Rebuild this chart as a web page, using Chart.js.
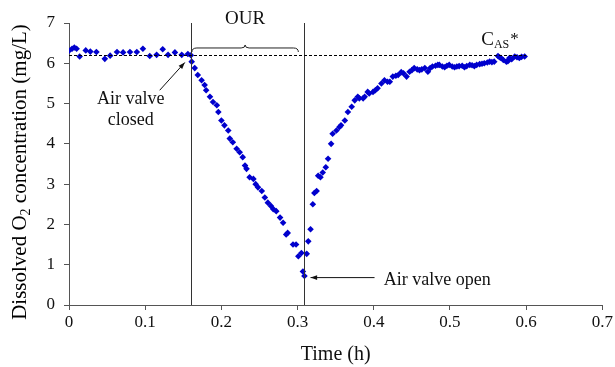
<!DOCTYPE html>
<html>
<head>
<meta charset="utf-8">
<script src="https://cdn.jsdelivr.net/npm/chart.js@4"></script>
<style>
  body { margin: 0; background: #fff; }
  #wrap { width: 615px; height: 367px; }
</style>
</head>
<body>
<div id="wrap"><canvas id="myChart" width="615" height="367"></canvas></div>
<script>
// time (h) and dissolved O2 (mg/L)
var timeH = [
  0.000, 0.004, 0.007, 0.010, 0.014, 0.022, 0.028, 0.036, 0.047, 0.054,
  0.063, 0.071, 0.080, 0.089, 0.097, 0.106, 0.115, 0.123, 0.130, 0.139,
  0.148, 0.156, 0.160,
  0.161, 0.165, 0.169, 0.174, 0.178, 0.180, 0.185, 0.189, 0.194, 0.196,
  0.200, 0.204, 0.209, 0.211, 0.215, 0.220, 0.224, 0.228, 0.231, 0.233,
  0.237, 0.242, 0.245, 0.248, 0.253, 0.257, 0.261, 0.265, 0.268, 0.272,
  0.277, 0.281, 0.285, 0.287, 0.294, 0.298, 0.301, 0.305, 0.307, 0.309,
  0.312, 0.314, 0.317, 0.320, 0.322, 0.325, 0.327, 0.330, 0.333, 0.337,
  0.340, 0.344, 0.346, 0.351, 0.355, 0.357, 0.362, 0.366, 0.371, 0.375,
  0.379, 0.381, 0.386, 0.388, 0.392, 0.394, 0.399, 0.402, 0.405, 0.410,
  0.414, 0.418, 0.421, 0.425, 0.429, 0.432, 0.436, 0.439, 0.443, 0.447,
  0.450, 0.453, 0.457, 0.460, 0.463, 0.467, 0.471, 0.474, 0.477, 0.481,
  0.484, 0.486, 0.490, 0.493, 0.496, 0.499, 0.503, 0.506, 0.509, 0.512,
  0.516, 0.519, 0.522, 0.526, 0.529, 0.532, 0.535, 0.539, 0.542, 0.545,
  0.549, 0.552, 0.555, 0.558, 0.563, 0.565, 0.567, 0.570, 0.574, 0.576,
  0.578, 0.581, 0.585, 0.588, 0.591, 0.594, 0.598
];
var doConc = [
  6.31, 6.36, 6.39, 6.36, 6.17, 6.32, 6.29, 6.28, 6.11, 6.19,
  6.28, 6.27, 6.28, 6.28, 6.36, 6.18, 6.21, 6.35, 6.21, 6.27,
  6.21, 6.23, 6.20,
  6.04, 5.88, 5.71, 5.58, 5.46, 5.33, 5.17, 5.04, 4.96, 4.79,
  4.58, 4.46, 4.33, 4.13, 4.04, 3.88, 3.79, 3.67, 3.46, 3.38,
  3.17, 3.13, 3.00, 2.92, 2.83, 2.67, 2.54, 2.46, 2.38, 2.33,
  2.17, 2.04, 1.75, 1.79, 1.50, 1.50, 1.21, 1.29, 0.83, 0.72,
  1.27, 1.58, 1.88, 2.50, 2.78, 2.83, 3.21, 3.17, 3.29, 3.42,
  3.63, 4.00, 4.25, 4.33, 4.42, 4.46, 4.58, 4.79, 4.92, 5.08,
  5.17, 5.13, 5.13, 5.17, 5.29, 5.25, 5.29, 5.33, 5.38, 5.50,
  5.58, 5.54, 5.54, 5.67, 5.69, 5.71, 5.78, 5.75, 5.67, 5.79,
  5.83, 5.88, 5.85, 5.83, 5.85, 5.88, 5.79, 5.88, 5.92, 5.94,
  5.96, 5.96, 5.92, 5.90, 5.94, 5.96, 5.92, 5.90, 5.92, 5.93,
  5.94, 5.90, 5.93, 5.96, 5.95, 5.93, 5.96, 5.98, 5.99, 6.00,
  6.02, 6.04, 6.03, 6.04, 6.18, 6.15, 6.13, 6.08, 6.04, 6.05,
  6.13, 6.10, 6.17, 6.15, 6.13, 6.16, 6.17
];
var xTicks = [0, 0.1, 0.2, 0.3, 0.4, 0.5, 0.6, 0.7];
var yTicks = [0, 1, 2, 3, 4, 5, 6, 7];

var valveClosed = 0.160;   // h
var valveOpen = 0.309;     // h
var cSat = 6.2;            // mg/L, C_AS*

var points = timeH.map(function (t, i) { return { x: t, y: doConc[i] }; });
var serif = '"Liberation Serif", "Times New Roman", serif';

function arrow(ctx, x1, y1, x2, y2) {
  var a = Math.atan2(y2 - y1, x2 - x1);
  ctx.beginPath();
  ctx.moveTo(x1, y1);
  ctx.lineTo(x2, y2);
  ctx.stroke();
  ctx.beginPath();
  ctx.moveTo(x2, y2);
  ctx.lineTo(x2 - 7 * Math.cos(a - 0.35), y2 - 7 * Math.sin(a - 0.35));
  ctx.lineTo(x2 - 7 * Math.cos(a + 0.35), y2 - 7 * Math.sin(a + 0.35));
  ctx.closePath();
  ctx.fill();
}

var notes = {
  id: 'notes',
  afterDatasetsDraw: function (chart) {
    var ctx = chart.ctx, xs = chart.scales.x, ys = chart.scales.y;
    var X = function (v) { return xs.getPixelForValue(v); };
    var Y = function (v) { return ys.getPixelForValue(v); };
    ctx.save();
    ctx.strokeStyle = '#333';
    ctx.fillStyle = '#000';
    ctx.lineWidth = 1;

    // valve lines
    [valveClosed, valveOpen].forEach(function (t) {
      ctx.beginPath();
      ctx.moveTo(Math.round(X(t)) + 0.5, Y(7));
      ctx.lineTo(Math.round(X(t)) + 0.5, Y(0));
      ctx.stroke();
    });

    // saturation dashed line
    ctx.strokeStyle = '#000';
    ctx.setLineDash([3, 2]);
    ctx.beginPath();
    ctx.moveTo(X(0), Math.round(Y(cSat)) + 0.5);
    ctx.lineTo(X(0.6), Math.round(Y(cSat)) + 0.5);
    ctx.stroke();
    ctx.setLineDash([]);

    // brace over OUR interval
    var bx1 = X(valveClosed) + 1, bx2 = X(0.301), by = Y(6.38), bm = (bx1 + bx2) / 2;
    ctx.strokeStyle = '#222';
    ctx.beginPath();
    ctx.moveTo(bx1, by + 4);
    ctx.quadraticCurveTo(bx1, by, bx1 + 5, by);
    ctx.lineTo(bm - 4, by);
    ctx.quadraticCurveTo(bm, by, bm, by - 3);
    ctx.quadraticCurveTo(bm, by, bm + 4, by);
    ctx.lineTo(bx2 - 5, by);
    ctx.quadraticCurveTo(bx2, by, bx2, by + 4);
    ctx.stroke();

    // texts
    ctx.fillStyle = '#111';
    ctx.font = '19px ' + serif;
    ctx.textAlign = 'center';
    ctx.textBaseline = 'alphabetic';
    ctx.fillText('OUR', bm, 24);
    ctx.font = '18px ' + serif;
    ctx.fillText('Air valve', X(0.081), Y(4.98));
    ctx.fillText('closed', X(0.081), Y(4.48));
    ctx.textAlign = 'left';
    ctx.fillText('Air valve open', X(0.413), Y(0.49));

    // C_AS*
    var cx = X(0.541), cy = Y(6.45);
    ctx.font = '19px ' + serif;
    ctx.fillText('C', cx, cy);
    var cw = ctx.measureText('C').width;
    ctx.font = '12px ' + serif;
    ctx.fillText('AS', cx + cw, cy + 3);
    var aw = ctx.measureText('AS').width;
    ctx.font = '17px ' + serif;
    ctx.fillText('*', cx + cw + aw + 1, cy - 1);

    // arrows
    ctx.strokeStyle = '#111';
    ctx.fillStyle = '#111';
    arrow(ctx, X(0.119), Y(5.33), X(0.152), Y(6.02));
    arrow(ctx, X(0.401), Y(0.68), X(0.317), Y(0.68));

    // y axis title with subscript
    ctx.save();
    ctx.translate(26, (chart.chartArea.top + chart.chartArea.bottom) / 2 + 8);
    ctx.rotate(-Math.PI / 2);
    ctx.fillStyle = '#000';
    ctx.textAlign = 'left';
    var p1 = 'Dissolved O', p2 = '2', p3 = ' concentration (mg/L)';
    ctx.font = '21px ' + serif;
    var w1 = ctx.measureText(p1).width, w3 = ctx.measureText(p3).width;
    ctx.font = '14px ' + serif;
    var w2 = ctx.measureText(p2).width;
    var sx = -(w1 + w2 + w3) / 2;
    ctx.font = '21px ' + serif;
    ctx.fillText(p1, sx, 0);
    ctx.font = '14px ' + serif;
    ctx.fillText(p2, sx + w1, 4);
    ctx.font = '21px ' + serif;
    ctx.fillText(p3, sx + w1 + w2, 0);
    ctx.restore();

    ctx.restore();
  }
};

var ctx = document.getElementById('myChart').getContext('2d');
var myChart = new Chart(ctx, {
  type: 'scatter',
  data: {
    datasets: [{
      label: 'DO',
      data: points,
      pointStyle: 'rectRot',
      pointRadius: 3.3,
      pointBorderWidth: 0,
      backgroundColor: '#0000CD',
      borderColor: '#0000CD'
    }]
  },
  options: {
    responsive: false,
    animation: false,
    layout: { padding: { top: 23, right: 12, left: 0, bottom: 0 } },
    plugins: { legend: { display: false }, tooltip: { enabled: false } },
    scales: {
      x: {
        type: 'linear',
        min: 0,
        max: 0.7,
        afterBuildTicks: function (scale) { scale.ticks = xTicks.map(function (v) { return { value: v }; }); },
        afterFit: function (scale) { scale.height = 62; },
        border: { color: '#555', width: 1 },
        grid: { display: true, drawOnChartArea: false, drawTicks: true, tickLength: 5, color: '#555' },
        ticks: {
          color: '#111',
          padding: 2,
          maxRotation: 0,
          font: { family: serif, size: 17 },
          callback: function (v) { return v === 0 ? '0' : v.toFixed(1); }
        },
        title: {
          display: true,
          text: 'Time (h)',
          color: '#111',
          font: { family: serif, size: 20 },
          padding: { top: 6, bottom: 0 }
        }
      },
      y: {
        type: 'linear',
        min: 0,
        max: 7,
        afterBuildTicks: function (scale) { scale.ticks = yTicks.map(function (v) { return { value: v }; }); },
        afterFit: function (scale) { scale.width = 69; },
        border: { color: '#555', width: 1 },
        grid: { display: true, drawOnChartArea: false, drawTicks: true, tickLength: 5, color: '#555' },
        ticks: {
          color: '#111',
          padding: 9,
          font: { family: serif, size: 17 }
        }
      }
    }
  },
  plugins: [notes]
});
</script>
</body>
</html>
